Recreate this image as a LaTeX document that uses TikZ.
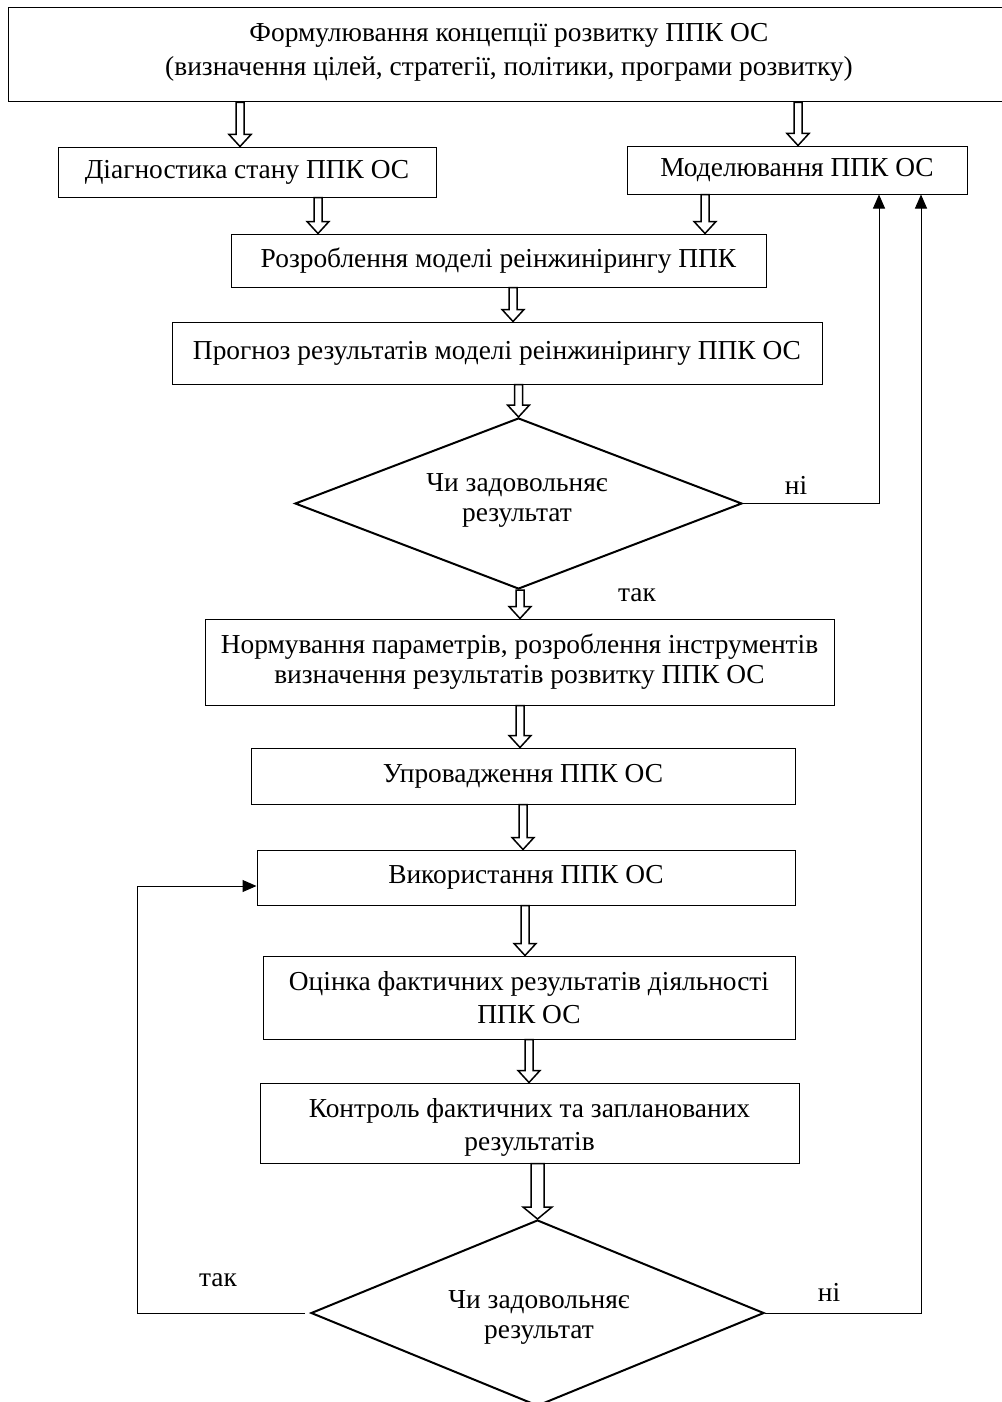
\documentclass[tikz,border=0pt]{standalone}
\usepackage{fontspec}
\setmainfont{Liberation Serif}
\usetikzlibrary{shapes.geometric,arrows.meta,calc}
\tikzset{
  box/.style={draw=black, line width=0.5pt, rectangle, inner sep=0pt, align=center,
    font=\fontsize{13.7}{16.5}\selectfont},
  dia/.style={draw=black, line width=1pt, diamond, inner sep=0pt},
  txt/.style={inner sep=0pt, align=center, font=\fontsize{13.7}{15}\selectfont},
  hollow/.style={draw=black, line width=0.75pt, fill=white, line join=miter},
  conn/.style={draw=black, line width=0.5pt, -{Triangle[length=7pt,width=6pt]}},
  lbl/.style={font=\fontsize{13.7}{15}\selectfont, inner sep=0pt},
}
% hollow arrow: #1 x (px), #2 from node, #3 to node, #4 shaft half width (pt), #5 head half width (pt)
\newcommand\harrow[5]{%
  \draw[hollow] let \p1=(#2.south), \p2=(#3.north), \p3=(#1,0) in
    (\x3-#4,\y1) -- (\x3+#4,\y1) -- (\x3+#4,\y2+6pt) -- (\x3+#5,\y2+6pt) --
    (\x3,\y2) -- (\x3-#5,\y2+6pt) -- (\x3-#4,\y2+6pt) -- cycle;}
\begin{document}
\begin{tikzpicture}[x=0.5pt,y=-0.5pt]
\useasboundingbox (0,0) rectangle (1001,1402);
\fill[white] (0,0) rectangle (1001,1402);

\node[box, minimum width=502pt, minimum height=47pt] (top) at (510,55) {};
\node[txt, font=\fontsize{13.7}{17}\selectfont] (toptext) at (509,52)
  {Формулювання концепції розвитку ППК ОС\\(визначення цілей, стратегії, політики, програми розвитку)};
\node[box, minimum width=189pt, minimum height=25pt] (diag) at (247,172) {Діагностика стану ППК ОС};
\node[box, minimum width=170pt, minimum height=24pt] (model) at (797,170) {Моделювання ППК ОС};
\node[box, minimum width=267.5pt, minimum height=26.5pt] (rozr) at (498.5,260.5) {Розроблення моделі реінжинірингу ППК};
\node[box, minimum width=325pt, minimum height=31pt] (progn) at (497,353) {Прогноз результатів моделі реінжинірингу ППК ОС};
\node[dia, aspect=2.61, minimum width=223.5pt, minimum height=85.5pt] (d1) at (518.5,503.5) {};
\node[txt] (d1text) at (517,500) {Чи задовольняє\\результат};
\node[box, minimum width=314.5pt, minimum height=43pt, font=\fontsize{13.7}{15}\selectfont] (norm) at (519.5,662)
  {Нормування параметрів, розроблення інструментів\\визначення результатів розвитку ППК ОС};
\node[box, minimum width=272pt, minimum height=28pt] (upr) at (523,776) {Упровадження ППК ОС};
\node[box, minimum width=269pt, minimum height=27.5pt] (vyk) at (526,877.5) {Використання ППК ОС};
\node[box, minimum width=266pt, minimum height=41.5pt] (ocin) at (529,997.5)
  {Оцінка фактичних результатів діяльності\\ППК ОС};
\node[box, minimum width=269.5pt, minimum height=40pt] (kontr) at (529.5,1123) {};
\node[txt, font=\fontsize{13.7}{16.5}\selectfont] (kontrtext) at (529.5,1127)
  {Контроль фактичних та запланованих\\результатів};
\node[dia, aspect=2.44, minimum width=226.5pt, minimum height=93pt] (d2) at (537.5,1313) {};
\node[txt] (d2text) at (539,1317) {Чи задовольняє\\результат};

% hollow arrows
\harrow{240}{top}{diag}{2pt}{5.5pt}
\harrow{798}{top}{model}{2pt}{5.5pt}
\harrow{318}{diag}{rozr}{2pt}{5.5pt}
\harrow{705}{model}{rozr}{2pt}{5.5pt}
\harrow{513}{rozr}{progn}{2pt}{5.5pt}
\harrow{518.5}{progn}{d1}{2pt}{5.5pt}
\harrow{520}{d1}{norm}{2pt}{5.5pt}
\harrow{520}{norm}{upr}{2pt}{5.5pt}
\harrow{523}{upr}{vyk}{2pt}{5.5pt}
\harrow{525}{vyk}{ocin}{2pt}{5.5pt}
\harrow{529}{ocin}{kontr}{2pt}{5.5pt}
\harrow{537.5}{kontr}{d2}{3.25pt}{7.25pt}

% feedback connectors
\coordinate (c1) at (879,0);
\coordinate (c2) at (921,0);
\coordinate (c3) at (137,0);
\draw[conn] (d1.east) -| (c1 |- model.south);
\draw[conn] (d2.east) -| (c2 |- model.south);
\draw[conn, shorten <=2.5pt] (d2.west) -| ([yshift=-4.25pt]c3 |- vyk.west) -- ([yshift=-4.25pt]vyk.west);

% labels
\node[lbl] (n1) at (796,485) {ні};
\node[lbl] (t1) at (637,595) {так};
\node[lbl] (t2) at (218,1280) {так};
\node[lbl] (n2) at (829,1292) {ні};
\end{tikzpicture}
\end{document}
